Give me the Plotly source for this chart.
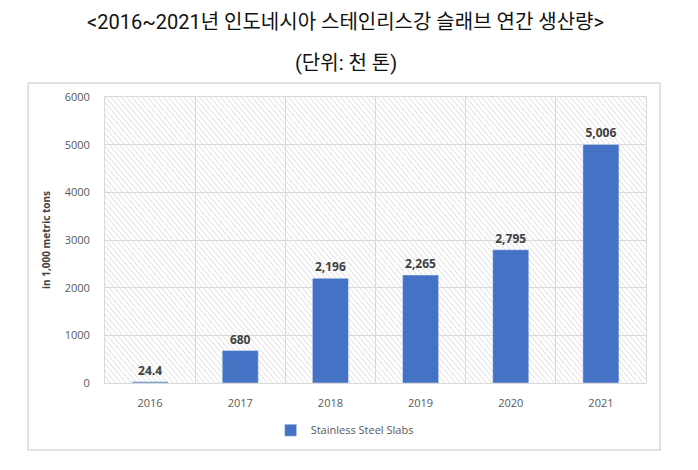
import base64
import plotly.graph_objects as go

years = ["2016", "2017", "2018", "2019", "2020", "2021"]
slabs = [24.4, 680, 2196, 2265, 2795, 5006]
labels = [f"{v:,.0f}" if v >= 100 else f"{v}" for v in slabs]

TITLE = "<2016~2021년 인도네시아 스테인리스강 슬래브 연간 생산량>"
SUBTITLE = "(단위: 천 톤)"
TITLE_FONT = "Roboto, Noto Sans CJK KR"

# hatched plot background, drawn as an svg pattern
W, H = 541, 286
svg = (
    f'<svg xmlns="http://www.w3.org/2000/svg" width="{W}" height="{H}" viewBox="0 0 {W} {H}">'
    '<defs><pattern id="h" width="4" height="4" patternUnits="userSpaceOnUse" '
    'patternTransform="rotate(-40)">'
    '<line x1="0" y1="0" x2="0" y2="4" stroke="#c8c8c8" stroke-width="1"/>'
    '</pattern></defs>'
    f'<rect width="{W}" height="{H}" fill="#ffffff"/>'
    f'<rect width="{W}" height="{H}" fill="url(#h)"/></svg>'
)
hatch = "data:image/svg+xml;base64," + base64.b64encode(svg.encode()).decode()

fig = go.Figure()
fig.add_bar(
    x=years, y=slabs, name="Stainless Steel Slabs",
    marker_color="#4472C4", width=0.4,
    text=labels, textposition="outside", cliponaxis=False,
    textfont=dict(family="Open Sans", size=12, color="#404040", weight="bold"),
)

fig.add_layout_image(
    source=hatch, xref="paper", yref="paper", x=0, y=1, sizex=1, sizey=1,
    sizing="stretch", xanchor="left", yanchor="top", layer="below",
)

# outer frame around chart
fig.add_shape(type="rect", xref="paper", yref="paper",
              x0=-0.142, x1=1.026, y0=-0.234, y1=1.049,
              line=dict(color="#d9d9d9", width=1.5), fillcolor="rgba(0,0,0,0)")

fig.add_annotation(text=TITLE, xref="paper", yref="paper", x=0.445, y=1.262,
                   yanchor="middle", showarrow=False,
                   font=dict(family=TITLE_FONT, size=20, color="#111"))
fig.add_annotation(text=SUBTITLE, xref="paper", yref="paper", x=0.445, y=1.119,
                   yanchor="middle", showarrow=False,
                   font=dict(family=TITLE_FONT, size=20, color="#111"))

fig.update_layout(
    width=698, height=470,
    margin=dict(l=97, r=60, t=89, b=95, autoexpand=False),
    paper_bgcolor="white",
    plot_bgcolor="rgba(0,0,0,0)",
    showlegend=True,
    legend=dict(orientation="h", x=0.443, xanchor="center", y=-0.165, yanchor="middle",
                font=dict(family="Open Sans", size=11, color="#595959")),
    font=dict(family="Open Sans", color="#595959"),
    xaxis=dict(
        type="category", tickson="boundaries", showgrid=True, gridcolor="#d9d9d9",
        showline=True, linecolor="#d9d9d9", mirror=True, ticks="",
        ticklabelstandoff=10,
        tickfont=dict(size=11, color="#595959"),
    ),
    yaxis=dict(
        range=[0, 6000], dtick=1000, showgrid=True, gridcolor="#d9d9d9",
        showline=True, linecolor="#d9d9d9", mirror=True, zeroline=False,
        ticks="outside", ticklen=12, tickcolor="rgba(0,0,0,0)",
        tickfont=dict(size=11, color="#595959"),
        title=dict(text="in 1,000 metric tons", standoff=12,
                   font=dict(size=10, color="#404040", weight="bold")),
    ),
)

fig.write_html("out.html")
